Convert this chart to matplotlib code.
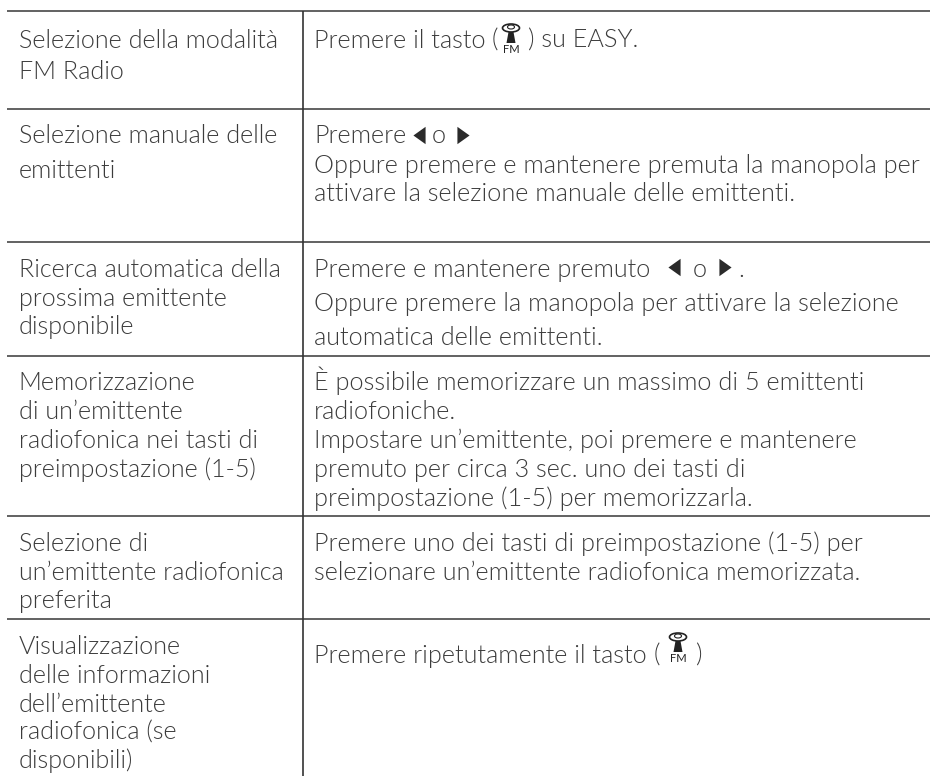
import matplotlib
matplotlib.use("Agg")
import matplotlib.pyplot as plt
from matplotlib.patches import Ellipse, Polygon

plt.rcParams['font.family'] = ['Lato', 'DejaVu Sans']

left_cells = [
    ["Selezione della modalità", "FM Radio"],
    ["Selezione manuale delle", "emittenti"],
    ["Ricerca automatica della", "prossima emittente", "disponibile"],
    ["Memorizzazione", "di un’emittente", "radiofonica nei tasti di", "preimpostazione (1-5)"],
    ["Selezione di", "un’emittente radiofonica", "preferita"],
    ["Visualizzazione", "delle informazioni", "dell’emittente", "radiofonica (se", "disponibili)"],
]
left_baselines = [
    [48, 79], [143, 178], [277, 306, 334],
    [390, 419, 448, 477], [551, 580, 608], [654, 683, 712, 740, 768],
]
right_cells = [
    ["Premere il tasto"],
    ["Premere", "Oppure premere e mantenere premuta la manopola per", "attivare la selezione manuale delle emittenti."],
    ["Premere e mantenere premuto", "Oppure premere la manopola per attivare la selezione", "automatica delle emittenti."],
    ["È possibile memorizzare un massimo di 5 emittenti", "radiofoniche.", "Impostare un’emittente, poi premere e mantenere", "premuto per circa 3 sec. uno dei tasti di", "preimpostazione (1-5) per memorizzarla."],
    ["Premere uno dei tasti di preimpostazione (1-5) per", "selezionare un’emittente radiofonica memorizzata."],
    ["Premere ripetutamente il tasto"],
]
right_baselines = [
    [48], [143, 173, 201], [277, 311, 345],
    [390, 419, 448, 477, 506], [551, 580], [663],
]
row_lines = [11, 109, 242, 356, 516, 619]

INK = '#3c3c3c'
FS_LEFT = 18.05
FS_RIGHT = 18.2

fig = plt.figure(figsize=(9.30, 7.76), dpi=100)
ax = fig.add_axes([0, 0, 1, 1])
ax.set_xlim(0, 930)
ax.set_ylim(776, 0)
ax.axis('off')

for y in row_lines:
    ax.plot([7, 930], [y, y], color='#555555', lw=1.3, solid_capstyle='butt')
ax.plot([303, 303], [11, 776], color='#333333', lw=1.2, solid_capstyle='butt')


def put(x, y, s, fs=FS_RIGHT):
    ax.text(x, y, s, fontsize=fs, color=INK, va='baseline', fontweight=300)


LEFT_ARROW = [(0.7, 1), (0.7, -1), (-0.7, 0)]
RIGHT_ARROW = [(-0.7, 1), (-0.7, -1), (0.7, 0)]


def arrow(x, y, verts):
    ax.plot([x], [y], marker=verts, ms=12.5, color='#2a2a2a', mew=0)


def fm_icon(cx, fm_base):
    ax.text(cx, fm_base, "FM", fontsize=8, color='#222222', ha='center', va='baseline')
    top = fm_base - 30
    ax.add_patch(Ellipse((cx, top + 5), 17, 8, fill=False, ec='#222222', lw=1.2))
    ax.add_patch(Ellipse((cx, top + 4), 7, 4, fill=False, ec='#222222', lw=0.8))
    ax.add_patch(Polygon([(cx - 2.5, top + 9), (cx + 2.5, top + 9), (cx + 4.5, top + 20), (cx - 4.5, top + 20)],
                         fc='#222222', ec='none'))


for lines, ys in zip(left_cells, left_baselines):
    for t, y in zip(lines, ys):
        put(18.5, y, t, FS_LEFT)
for lines, ys in zip(right_cells, right_baselines):
    for t, y in zip(lines, ys):
        put(314, y, t)

put(492, 48, "(")
put(528, 48, ") su EASY.")
fm_icon(511, 53)
put(654, 663, "(")
put(695, 663, ")")
fm_icon(678, 662)

arrow(418.5, 135, LEFT_ARROW)
put(432, 143, "o")
arrow(463, 135, RIGHT_ARROW)

arrow(673.5, 267, LEFT_ARROW)
put(693, 277, "o")
arrow(725, 267, RIGHT_ARROW)
put(738, 277, ".")

fig.savefig('out.png', dpi=100)
